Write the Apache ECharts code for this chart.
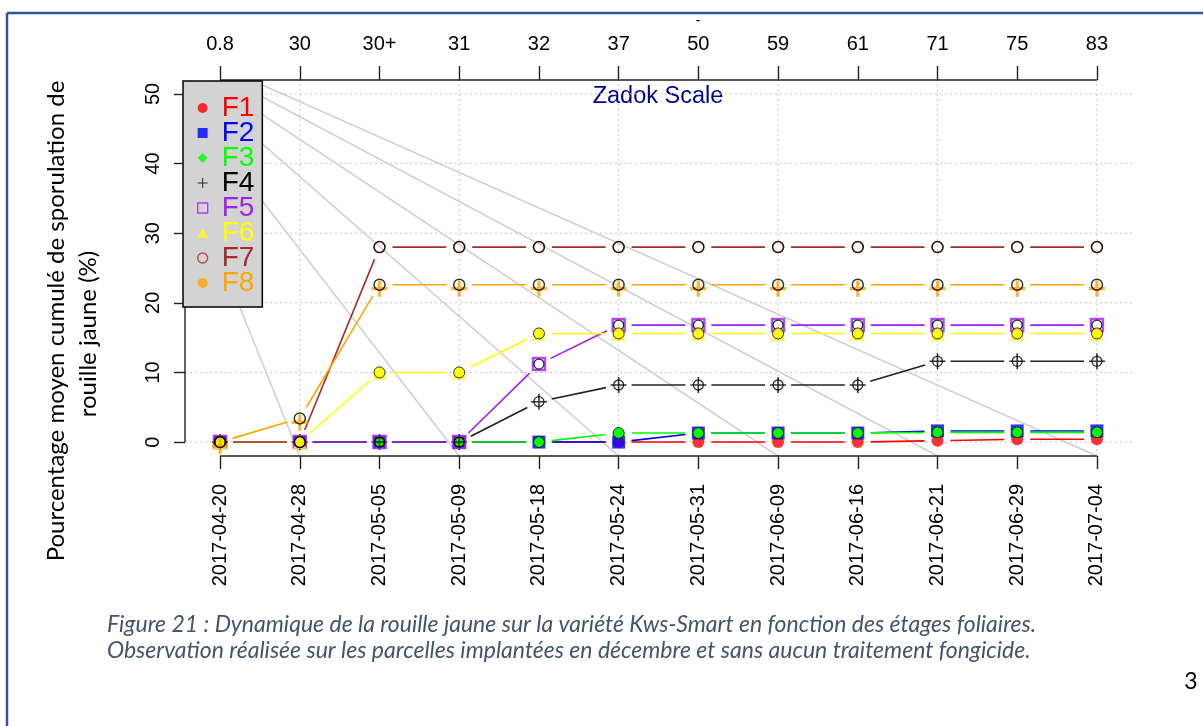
<!DOCTYPE html>
<html>
<head>
<meta charset="UTF-8">
<title>Rouille jaune Kws-Smart</title>
<script src="https://cdn.jsdelivr.net/npm/echarts@6.0.0/dist/echarts.min.js"></script>
<style>
html, body { margin: 0; padding: 0; background: #fff; }
#main { width: 1203px; height: 726px; }
</style>
</head>
<body>
<div id="main"></div>
<script type="text/javascript">
// dates d'observation (axe du bas) et stades Zadok (axe du haut)
var dates = ['2017-04-20', '2017-04-28', '2017-05-05', '2017-05-09', '2017-05-18', '2017-05-24',
             '2017-05-31', '2017-06-09', '2017-06-16', '2017-06-21', '2017-06-29', '2017-07-04'];
var zadok = ['0.8', '30', '30+', '31', '32', '37', '50', '59', '61', '71', '75', '83'];
var yTicks = [0, 10, 20, 30, 40, 50];

// pourcentage moyen cumule de sporulation, par parcelle
var F1 = [0, 0, 0, 0, 0, 0, 0, 0, 0, 0.2, 0.4, 0.4];
var F2 = [0, 0, 0, 0, 0, 0, 1.3, 1.3, 1.3, 1.6, 1.6, 1.6];
var F3 = [0, 0, 0, 0, 0, 1.3, 1.3, 1.3, 1.3, 1.4, 1.4, 1.4];
var F4 = [0, 0, 0, 0, 5.8, 8.2, 8.2, 8.2, 8.2, 11.6, 11.6, 11.6];
var F5 = [0, 0, 0, 0, 11.2, 16.8, 16.8, 16.8, 16.8, 16.8, 16.8, 16.8];
var F6 = [0, 0, 10, 10, 15.6, 15.6, 15.6, 15.6, 15.6, 15.6, 15.6, 15.6];
var F7 = [0, 0, 28, 28, 28, 28, 28, 28, 28, 28, 28, 28];
var F8 = [0, 3.4, 22.6, 22.6, 22.6, 22.6, 22.6, 22.6, 22.6, 22.6, 22.6, 22.6];

// traits gris : un point commun vers une date sur deux
var guideFrom = [-1.18, 60];
var guideTo = [1, 3, 5, 7, 9, 11];

var myChart = echarts.init(document.getElementById('main'));

var xMin = -0.44, xMax = 11.44, yMin = -2, yMax = 52;
var idx = dates.map(function (d, i) { return i; });

var plusPath = 'path://M0,9L20,9L20,11L0,11Z M9,0L11,0L11,20L9,20Z';
var thickPlus = 'path://M0,8L20,8L20,12L0,12Z M8,0L12,0L12,20L8,20Z';

// segment entre deux points, raccourci aux deux bouts (comme type="b" de R)
function segRenderer(color, width, gap, dash) {
    return function (params, api) {
        var p1 = api.coord([api.value(0), api.value(1)]);
        var p2 = api.coord([api.value(2), api.value(3)]);
        var dx = p2[0] - p1[0], dy = p2[1] - p1[1];
        var len = Math.sqrt(dx * dx + dy * dy);
        if (len <= 2 * gap + 1) return null;
        var ux = dx / len, uy = dy / len;
        return {
            type: 'line',
            shape: { x1: p1[0] + ux * gap, y1: p1[1] + uy * gap, x2: p2[0] - ux * gap, y2: p2[1] - uy * gap },
            style: { stroke: color, lineWidth: width, lineDash: dash || null }
        };
    };
}

function segments(arr) {
    var s = [];
    for (var i = 0; i < arr.length - 1; i++) s.push([i, arr[i], i + 1, arr[i + 1]]);
    return s;
}

function gapLine(name, arr, color) {
    return {
        type: 'custom', name: name + ' l', data: segments(arr),
        encode: { x: [0, 2], y: [1, 3] }, renderItem: segRenderer(color, 1.6, 13), silent: true
    };
}

function pts(name, arr, symbol, size, style, offset) {
    return {
        type: 'scatter', name: name, symbol: symbol, symbolSize: size, symbolOffset: offset || [0, 0],
        itemStyle: style, silent: true,
        data: arr.map(function (v, i) { return [i, v]; })
    };
}

var open = function (c, w) { return { color: 'transparent', borderColor: c, borderWidth: w }; };

var gridData = guideTo.map(function (k) { return [k, yMin, k, yMax]; })
    .concat(yTicks.map(function (v) { return [xMin, v, xMax, v]; }));

var series = [
    {
        type: 'custom', name: 'grille', silent: true, data: gridData,
        encode: { x: [0, 2], y: [1, 3] }, renderItem: segRenderer('#c8c8c8', 1, 0, [2, 3])
    },
    {
        type: 'custom', name: 'guides', clip: true, silent: true,
        data: guideTo.map(function (k) { return [guideFrom[0], guideFrom[1], k, yMin]; }),
        encode: { x: [0, 2], y: [1, 3] }, renderItem: segRenderer('#cfcfcf', 1.5, 0)
    },
    gapLine('F1', F1, '#ff0000'),
    gapLine('F2', F2, '#0000ff'),
    gapLine('F3', F3, '#00ff00'),
    gapLine('F4', F4, '#222222'),
    gapLine('F5', F5, '#a020f0'),
    gapLine('F6', F6, '#ffff00'),
    gapLine('F7', F7, '#a52a2a'),
    gapLine('F8', F8, '#ffa500'),
    pts('F1', F1, 'circle', 12, { color: '#ff0000' }),
    pts('F2', F2, 'rect', 13, { color: '#0000ff' }),
    pts('F3', F3, 'diamond', 13, { color: '#00ff00' }),
    pts('F3o', F3, 'circle', 11, { color: '#00ff00', borderColor: '#000', borderWidth: 1 }),
    pts('F4', F4, plusPath, 16, { color: '#000' }),
    pts('F4o', F4, 'circle', 10, open('#000', 1.3)),
    pts('F5', F5, 'rect', 12, open('#a020f0', 2.5)),
    pts('F5o', F5, 'circle', 10, open('#000', 1.3)),
    pts('F6', F6, 'triangle', 14, { color: '#ffff00' }),
    pts('F6o', F6, 'circle', 11, { color: '#ffff00', borderColor: '#000', borderWidth: 1 }),
    pts('F7', F7, 'circle', 11, open('#a52a2a', 1.3)),
    pts('F7o', F7, 'circle', 11, open('#000', 1.5)),
    pts('F8', F8, thickPlus, 16, { color: '#ffa500' }, [0, 4]),
    pts('F8o', F8, 'circle', 11, open('#000', 1.5)),
    {
        // lignes d'axes limitees aux graduations, comme dans R
        type: 'custom', name: 'axes', clip: false, silent: true,
        data: [[idx[0], yMin, idx[idx.length - 1], yMin], [idx[0], yMax, idx[idx.length - 1], yMax],
               [xMin, yTicks[0], xMin, yTicks[yTicks.length - 1]]],
        encode: { x: [0, 2], y: [1, 3] }, renderItem: segRenderer('#222', 1.4, 0)
    }
];

var legendIcons = {
    F1: 'circle', F2: 'rect', F3: 'diamond', F4: plusPath,
    F5: 'rect', F6: 'triangle', F7: 'circle', F8: 'circle'
};
var legendColors = {
    F1: '#ff0000', F2: '#0000ff', F3: '#00ff00', F4: '#000000',
    F5: '#a020f0', F6: '#ffff00', F7: '#a52a2a', F8: '#ffa500'
};
var names = ['F1', 'F2', 'F3', 'F4', 'F5', 'F6', 'F7', 'F8'];

var tickFont = { fontSize: 20, color: '#000', fontFamily: 'Liberation Sans' };

var option = {
    animation: false,
    grid: { left: 185, right: 71, top: 80, bottom: 270 },
    legend: {
        orient: 'vertical', left: 183, top: 81, padding: [13, 8, 10, 14],
        itemGap: -3, itemWidth: 10, itemHeight: 10, selectedMode: false,
        backgroundColor: '#d3d3d3', borderColor: '#000', borderWidth: 1.5,
        textStyle: { fontSize: 28, lineHeight: 25, fontFamily: 'Liberation Sans', padding: [0, 0, 0, 9] },
        data: names.map(function (n) {
            var item = { name: n, icon: legendIcons[n], textStyle: { color: legendColors[n] } };
            if (n === 'F5' || n === 'F7') item.itemStyle = { borderWidth: 1.3 };
            return item;
        })
    },
    xAxis: [
        {
            type: 'value', min: xMin, max: xMax, position: 'bottom',
            axisLine: { show: false, onZero: false }, splitLine: { show: false },
            axisTick: { show: true, customValues: idx, length: 13, lineStyle: { color: '#222', width: 1.4 } },
            axisLabel: Object.assign({
                customValues: idx, rotate: 90, margin: 28,
                formatter: function (v) { return dates[Math.round(v)]; }
            }, tickFont)
        },
        {
            type: 'value', min: xMin, max: xMax, position: 'top',
            axisLine: { show: false, onZero: false }, splitLine: { show: false },
            axisTick: { show: true, customValues: idx, length: 14, lineStyle: { color: '#222', width: 1.4 } },
            axisLabel: Object.assign({
                customValues: idx, margin: 26,
                formatter: function (v) { return zadok[Math.round(v)]; }
            }, tickFont)
        }
    ],
    yAxis: {
        type: 'value', min: yMin, max: yMax, position: 'left',
        axisLine: { show: false, onZero: false }, splitLine: { show: false },
        axisTick: { show: true, customValues: yTicks, length: 11, lineStyle: { color: '#222', width: 1.4 } },
        axisLabel: Object.assign({ customValues: yTicks, rotate: 90, margin: 22 }, tickFont)
    },
    graphic: [
        { type: 'line', shape: { x1: 7, y1: 13, x2: 1203, y2: 13 }, style: { stroke: '#2f5597', lineWidth: 2.5 } },
        { type: 'line', shape: { x1: 7, y1: 13, x2: 7, y2: 726 }, style: { stroke: '#2f5597', lineWidth: 2.5 } },
        {
            type: 'text', x: 56, y: 321, rotation: Math.PI / 2,
            style: { text: 'Pourcentage moyen cumulé de sporulation de', font: '24px Lato', fill: '#000',
                     textAlign: 'center', textVerticalAlign: 'middle' }
        },
        {
            type: 'text', x: 88, y: 334, rotation: Math.PI / 2,
            style: { text: 'rouille jaune (%)', font: '24px Lato', fill: '#000',
                     textAlign: 'center', textVerticalAlign: 'middle' }
        },
        {
            type: 'text', x: 658, y: 97,
            style: { text: 'Zadok Scale', font: '23.5px "Liberation Sans"', fill: '#00008b',
                     textAlign: 'center', textVerticalAlign: 'middle' }
        },
        {
            type: 'text', x: 698, y: 21,
            style: { text: '-', font: '14px "Liberation Sans"', fill: '#000',
                     textAlign: 'center', textVerticalAlign: 'middle' }
        },
        {
            type: 'text', x: 107, y: 625,
            style: { text: 'Figure 21 : Dynamique de la rouille jaune sur la variété Kws-Smart en fonction des étages foliaires.',
                     font: 'italic 23px Lato', fill: '#44546a', textVerticalAlign: 'middle' }
        },
        {
            type: 'text', x: 107, y: 651,
            style: { text: 'Observation réalisée sur les parcelles implantées en décembre et sans aucun traitement fongicide.',
                     font: 'italic 23px Lato', fill: '#44546a', textVerticalAlign: 'middle' }
        },
        {
            type: 'text', x: 1191, y: 682,
            style: { text: '3', font: '23px Lato', fill: '#000', textAlign: 'center', textVerticalAlign: 'middle' }
        }
    ],
    series: series
};

myChart.setOption(option);
</script>
</body>
</html>
